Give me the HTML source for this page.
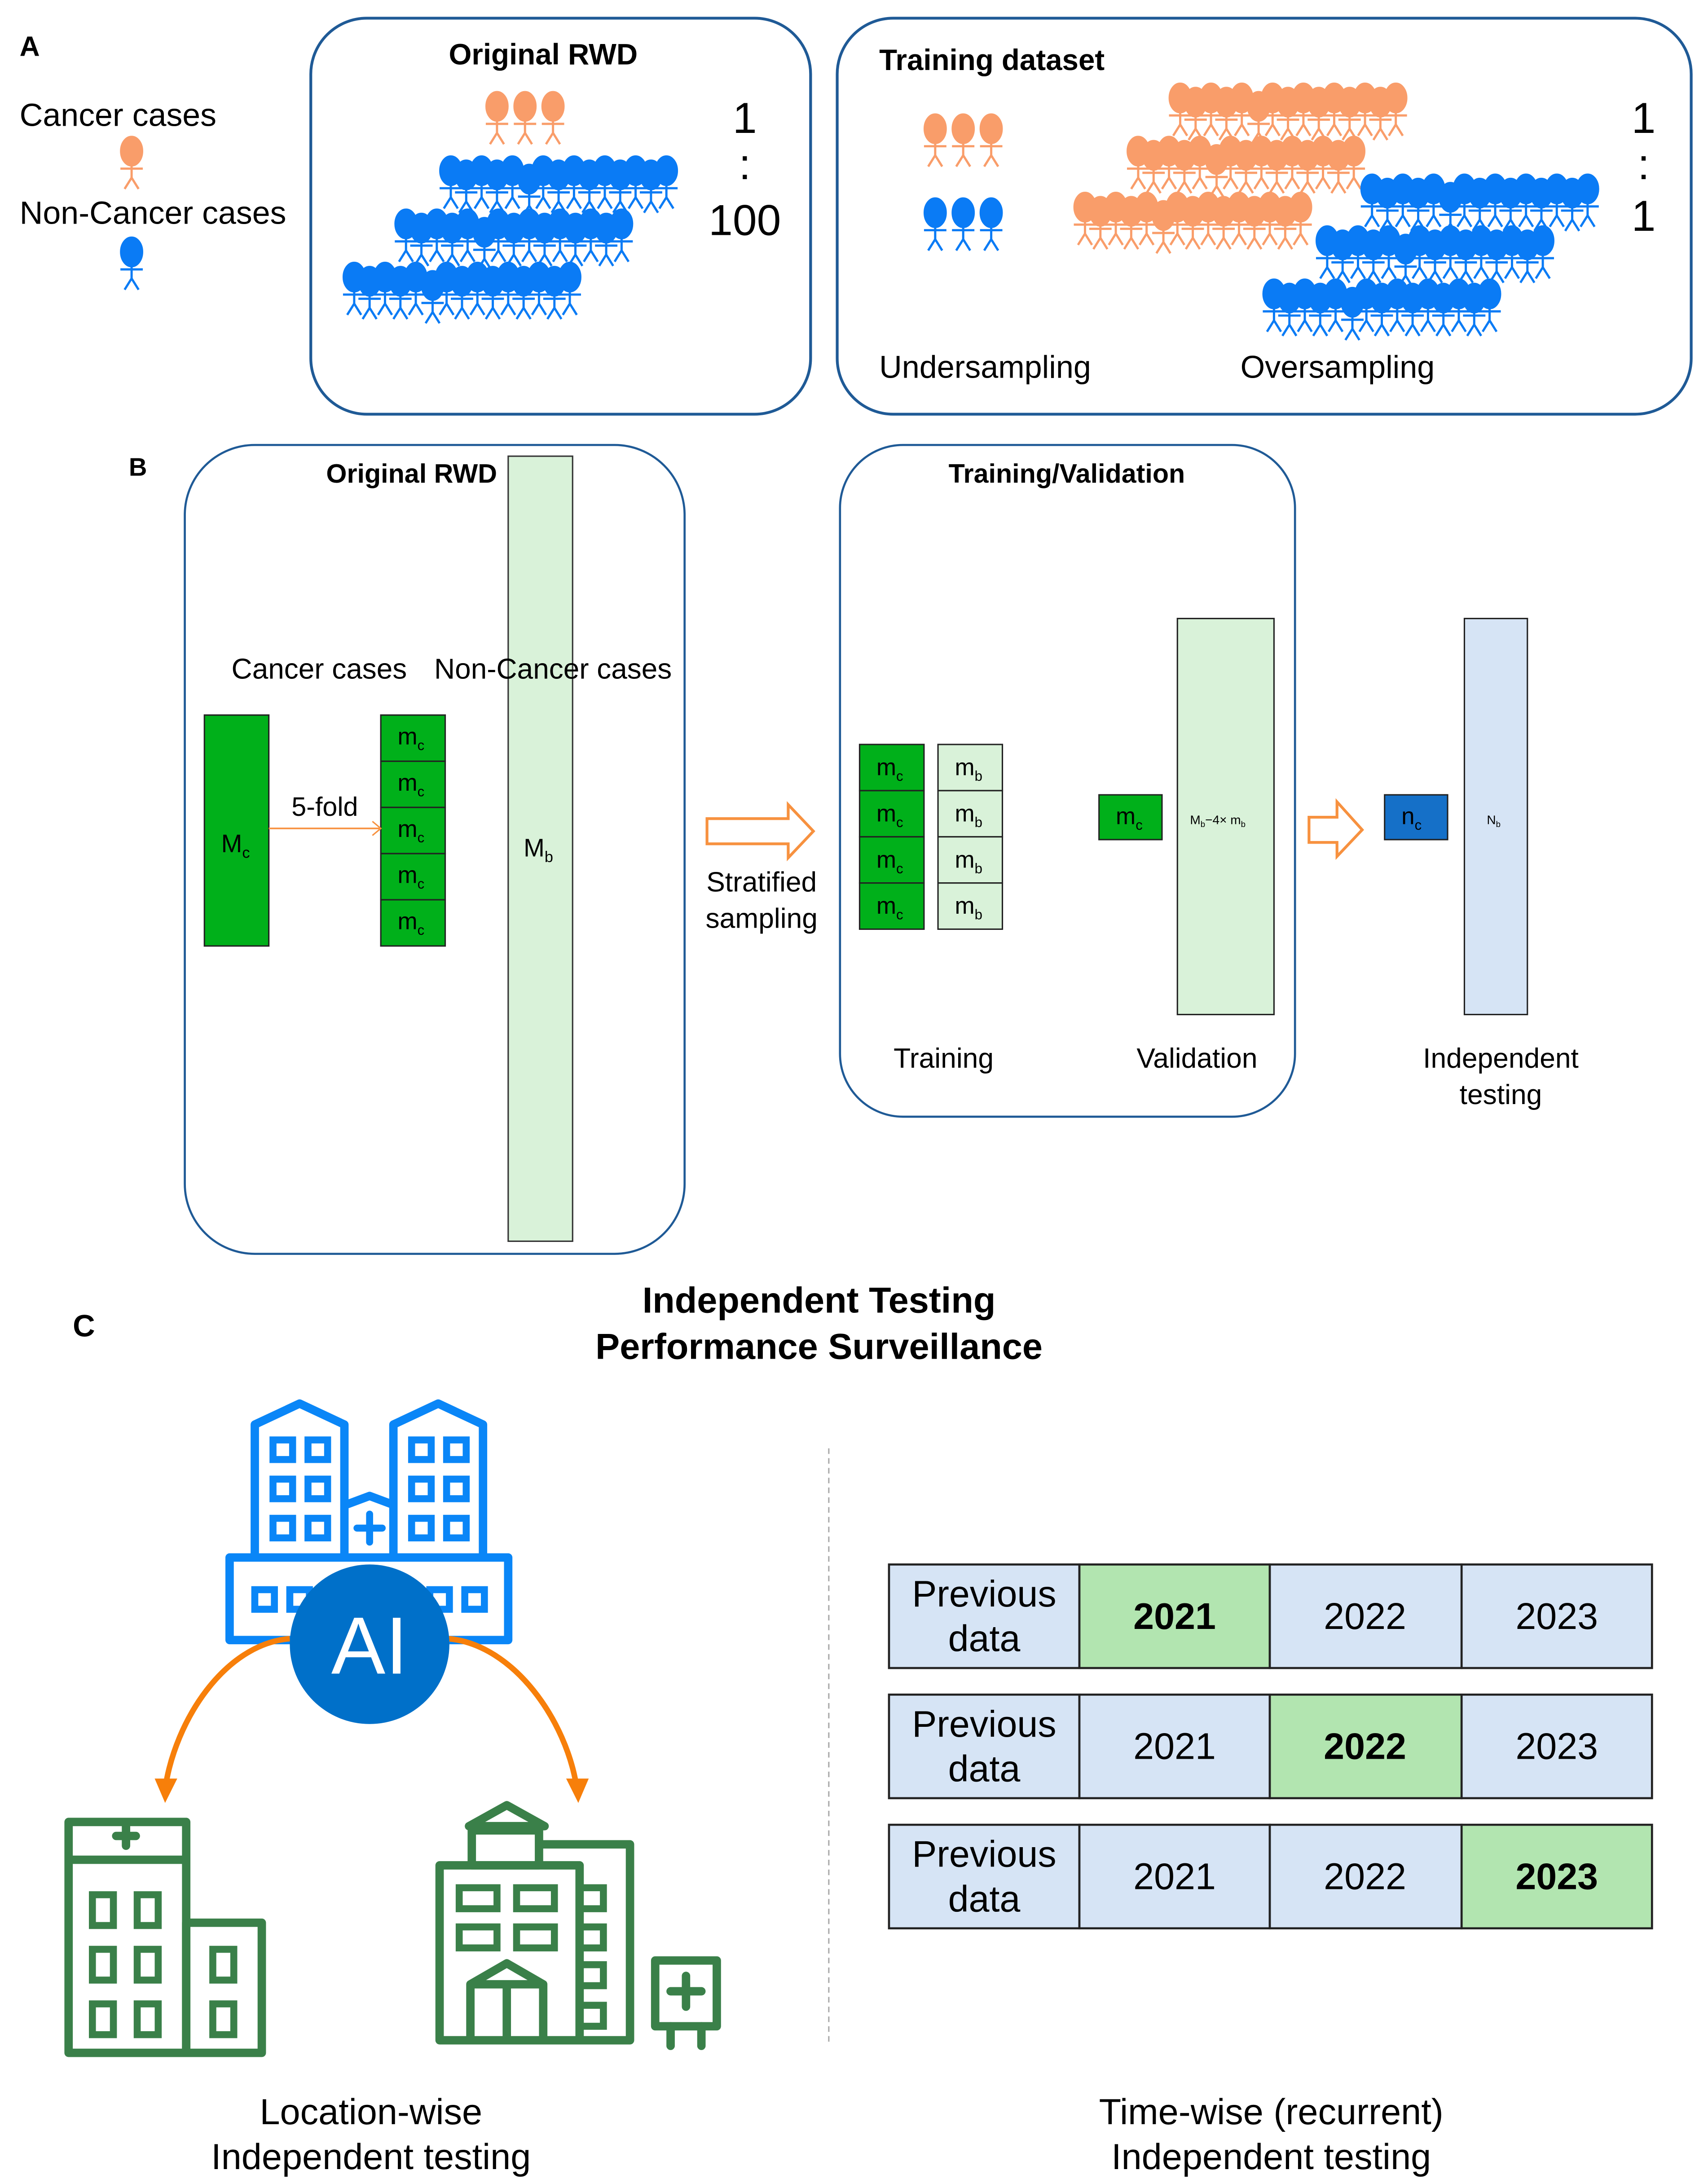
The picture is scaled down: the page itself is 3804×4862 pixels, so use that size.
<!DOCTYPE html>
<html><head><meta charset="utf-8"><style>html,body{margin:0;padding:0;background:#fff}svg{display:block}</style></head>
<body>
<svg xmlns="http://www.w3.org/2000/svg" xmlns:xlink="http://www.w3.org/1999/xlink" width="3804" height="4862" viewBox="0 0 1220 1560" preserveAspectRatio="none" font-family="Liberation Sans, Arial, sans-serif">
<defs>
<g id="p"><ellipse cx="0" cy="0" rx="7.8" ry="10.5"/><path d="M0 8V19M-8 12.5H8M0 19L-5 27M0 19L5 27" stroke-width="1.6" fill="none"/></g>
<g id="row">
<use href="#p" x="0" y="0"/><use href="#p" x="22" y="0"/><use href="#p" x="44" y="0"/><use href="#p" x="66" y="0"/><use href="#p" x="88" y="0"/><use href="#p" x="110" y="0"/><use href="#p" x="132" y="0"/><use href="#p" x="154" y="0"/>
<use href="#p" x="11" y="3"/><use href="#p" x="33" y="3"/><use href="#p" x="56" y="6"/><use href="#p" x="77" y="3"/><use href="#p" x="99" y="3"/><use href="#p" x="121" y="3"/><use href="#p" x="143" y="3"/>
</g>
</defs>
<rect width="1220" height="1560" fill="#fff"/>

<!-- Panel A -->
<text x="14" y="40" font-size="20" font-weight="bold">A</text>
<text x="14" y="90" font-size="23">Cancer cases</text>
<use href="#p" x="94" y="108" fill="#f99d6a" stroke="#f99d6a"/>
<text x="14" y="160" font-size="23">Non-Cancer cases</text>
<use href="#p" x="94" y="180" fill="#0a7bf5" stroke="#0a7bf5"/>

<rect x="222" y="13" width="357" height="283" rx="40" fill="none" stroke="#1f5a96" stroke-width="2"/>
<text x="388" y="46" font-size="21" font-weight="bold" text-anchor="middle">Original RWD</text>
<g fill="#f99d6a" stroke="#f99d6a"><use href="#p" x="355" y="76"/><use href="#p" x="375" y="76"/><use href="#p" x="395" y="76"/></g>
<g fill="#0a7bf5" stroke="#0a7bf5"><use href="#row" x="322" y="122"/><use href="#row" x="290" y="160"/><use href="#row" x="253" y="198"/></g>
<g font-size="31" text-anchor="middle"><text x="532" y="95">1</text><text x="532" y="128">:</text><text x="532" y="168">100</text></g>

<rect x="598" y="13" width="610" height="283" rx="40" fill="none" stroke="#1f5a96" stroke-width="2"/>
<text x="628" y="50" font-size="21" font-weight="bold">Training dataset</text>
<g fill="#f99d6a" stroke="#f99d6a"><use href="#p" x="668" y="92"/><use href="#p" x="688" y="92"/><use href="#p" x="708" y="92"/>
<use href="#row" x="843" y="70"/><use href="#row" x="813" y="108"/><use href="#row" x="775" y="148"/></g>
<g fill="#0a7bf5" stroke="#0a7bf5"><use href="#p" x="668" y="152"/><use href="#p" x="688" y="152"/><use href="#p" x="708" y="152"/>
<use href="#row" x="980" y="135"/><use href="#row" x="948" y="172"/><use href="#row" x="910" y="210"/></g>
<g font-size="31" text-anchor="middle"><text x="1174" y="95">1</text><text x="1174" y="128">:</text><text x="1174" y="165">1</text></g>
<text x="628" y="270" font-size="22.5">Undersampling</text>
<text x="886" y="270" font-size="22.5">Oversampling</text>

<!-- Panel B -->
<text x="92" y="340" font-size="18" font-weight="bold">B</text>
<rect x="132" y="318" width="357" height="578" rx="50" fill="none" stroke="#1f5a96" stroke-width="1.5"/>
<text x="294" y="345" font-size="19" font-weight="bold" text-anchor="middle">Original RWD</text>
<rect x="363" y="326" width="46" height="561" fill="#d9f2d9" stroke="#333" stroke-width="1"/>
<text x="228" y="485" font-size="20.5" text-anchor="middle">Cancer cases</text>
<text x="395" y="485" font-size="20.5" text-anchor="middle">Non-Cancer cases</text>
<rect x="146" y="511" width="46" height="165" fill="#00b01a" stroke="#222" stroke-width="1"/>
<text x="158" y="609" font-size="18">M<tspan font-size="11" dy="4">c</tspan></text>
<g fill="#00b01a" stroke="#222" stroke-width="1">
<rect x="272" y="511" width="46" height="33"/><rect x="272" y="544" width="46" height="33"/><rect x="272" y="577" width="46" height="33"/><rect x="272" y="610" width="46" height="33"/><rect x="272" y="643" width="46" height="33"/></g>
<g font-size="17"><text x="284" y="532">m<tspan font-size="10" dy="4">c</tspan></text><text x="284" y="565">m<tspan font-size="10" dy="4">c</tspan></text><text x="284" y="598">m<tspan font-size="10" dy="4">c</tspan></text><text x="284" y="631">m<tspan font-size="10" dy="4">c</tspan></text><text x="284" y="664">m<tspan font-size="10" dy="4">c</tspan></text></g>
<line x1="192" y1="592" x2="271" y2="592" stroke="#f7913f" stroke-width="1.2"/>
<path d="M266 587L272 592L266 597" fill="none" stroke="#f7913f" stroke-width="1"/>
<text x="232" y="583" font-size="19" text-anchor="middle">5-fold</text>
<text x="374" y="612" font-size="18">M<tspan font-size="11" dy="4">b</tspan></text>
<path d="M505 585H563V575L581 594L563 613V603H505Z" fill="#fff" stroke="#f7913f" stroke-width="2"/>
<text x="544" y="637" font-size="20" text-anchor="middle">Stratified</text>
<text x="544" y="663" font-size="20" text-anchor="middle">sampling</text>

<rect x="600" y="318" width="325" height="480" rx="45" fill="none" stroke="#1f5a96" stroke-width="1.5"/>
<text x="762" y="345" font-size="19" font-weight="bold" text-anchor="middle">Training/Validation</text>
<g stroke="#222" stroke-width="1">
<rect x="614" y="532" width="46" height="33" fill="#00b01a"/><rect x="614" y="565" width="46" height="33" fill="#00b01a"/><rect x="614" y="598" width="46" height="33" fill="#00b01a"/><rect x="614" y="631" width="46" height="33" fill="#00b01a"/>
<rect x="670" y="532" width="46" height="33" fill="#d9f2d9"/><rect x="670" y="565" width="46" height="33" fill="#d9f2d9"/><rect x="670" y="598" width="46" height="33" fill="#d9f2d9"/><rect x="670" y="631" width="46" height="33" fill="#d9f2d9"/>
<rect x="785" y="568" width="45" height="32" fill="#00b01a"/>
<rect x="841" y="442" width="69" height="283" fill="#d9f2d9"/>
<rect x="989" y="568" width="45" height="32" fill="#1570c8"/>
<rect x="1046" y="442" width="45" height="283" fill="#d6e4f5"/>
</g>
<g font-size="17"><text x="626" y="554">m<tspan font-size="10" dy="4">c</tspan></text><text x="626" y="587">m<tspan font-size="10" dy="4">c</tspan></text><text x="626" y="620">m<tspan font-size="10" dy="4">c</tspan></text><text x="626" y="653">m<tspan font-size="10" dy="4">c</tspan></text>
<text x="682" y="554">m<tspan font-size="10" dy="4">b</tspan></text><text x="682" y="587">m<tspan font-size="10" dy="4">b</tspan></text><text x="682" y="620">m<tspan font-size="10" dy="4">b</tspan></text><text x="682" y="653">m<tspan font-size="10" dy="4">b</tspan></text>
<text x="797" y="589">m<tspan font-size="10" dy="4">c</tspan></text>
<text x="1001" y="589">n<tspan font-size="10" dy="4">c</tspan></text></g>
<text x="850" y="589" font-size="9">M<tspan font-size="6" dy="2">b</tspan><tspan dy="-2">−4× m</tspan><tspan font-size="6" dy="2">b</tspan></text>
<text x="1062" y="589" font-size="9">N<tspan font-size="6" dy="2">b</tspan></text>
<path d="M935 584H955V573L973 593L955 612V602H935Z" fill="#fff" stroke="#f7913f" stroke-width="2"/>
<text x="674" y="763" font-size="20" text-anchor="middle">Training</text>
<text x="855" y="763" font-size="20" text-anchor="middle">Validation</text>
<text x="1072" y="763" font-size="20" text-anchor="middle">Independent</text>
<text x="1072" y="789" font-size="20" text-anchor="middle">testing</text>

<!-- Panel C -->
<text x="52" y="955" font-size="22" font-weight="bold">C</text>
<text x="585" y="938" font-size="26" font-weight="bold" text-anchor="middle">Independent Testing</text>
<text x="585" y="971" font-size="26" font-weight="bold" text-anchor="middle">Performance Surveillance</text>
<line x1="592" y1="1035" x2="592" y2="1460" stroke="#aaa" stroke-width="1" stroke-dasharray="4,3"/>

<!-- blue hospital -->
<g fill="none" stroke="#0a86f7" stroke-width="6" stroke-linejoin="round">
<path d="M182 1113V1018L214 1003L246 1018V1113"/>
<path d="M281 1113V1018L313 1003L345 1018V1113"/>
<path d="M248 1075L264 1069L280 1075"/>
<rect x="164" y="1113" width="199" height="59"/>
<path d="M264 1082V1102M255 1092H273" stroke-width="5" stroke-linecap="round"/>
</g>
<g fill="none" stroke="#0a86f7" stroke-width="5">
<rect x="195" y="1029" width="14" height="14"/><rect x="220" y="1029" width="14" height="14"/>
<rect x="195" y="1057" width="14" height="14"/><rect x="220" y="1057" width="14" height="14"/>
<rect x="195" y="1085" width="14" height="14"/><rect x="220" y="1085" width="14" height="14"/>
<rect x="294" y="1029" width="14" height="14"/><rect x="319" y="1029" width="14" height="14"/>
<rect x="294" y="1057" width="14" height="14"/><rect x="319" y="1057" width="14" height="14"/>
<rect x="294" y="1085" width="14" height="14"/><rect x="319" y="1085" width="14" height="14"/>
<rect x="182" y="1136" width="14" height="14"/><rect x="207" y="1136" width="14" height="14"/>
<rect x="307" y="1136" width="14" height="14"/><rect x="332" y="1136" width="14" height="14"/>
</g>
<path d="M207 1171C160 1175 125 1230 118 1278" fill="none" stroke="#f77f0a" stroke-width="4"/>
<path d="M112 1272L118 1286L125 1272Z" fill="#f77f0a" stroke="#f77f0a" stroke-width="2"/>
<path d="M320 1171C367 1175 405 1230 412 1278" fill="none" stroke="#f77f0a" stroke-width="4"/>
<path d="M406 1272L413 1286L419 1272Z" fill="#f77f0a" stroke="#f77f0a" stroke-width="2"/>
<circle cx="264" cy="1175" r="57" fill="#0070c9"/>
<text x="264" y="1196" font-size="58" fill="#fff" text-anchor="middle">AI</text>

<!-- green buildings -->
<g fill="none" stroke="#3a8049" stroke-width="6" stroke-linejoin="round">
<rect x="49" y="1302" width="84" height="165"/>
<line x1="49" y1="1329" x2="133" y2="1329"/>
<rect x="133" y="1374" width="54" height="93"/>
<path d="M90 1305V1319M83 1312H97" stroke-linecap="round"/>
</g>
<g fill="none" stroke="#3a8049" stroke-width="5">
<rect x="66" y="1354" width="15" height="22"/><rect x="98" y="1354" width="15" height="22"/>
<rect x="66" y="1393" width="15" height="22"/><rect x="98" y="1393" width="15" height="22"/>
<rect x="66" y="1432" width="15" height="22"/><rect x="98" y="1432" width="15" height="22"/>
<rect x="152" y="1393" width="15" height="22"/><rect x="152" y="1432" width="15" height="22"/>
</g>
<g fill="none" stroke="#3a8049" stroke-width="6" stroke-linejoin="round">
<rect x="314" y="1333" width="100" height="125"/>
<rect x="337" y="1308" width="48" height="25"/>
<path d="M335 1305L362 1290L389 1305Z"/>
<path d="M385 1318H450V1458H414"/>
<path d="M336 1458V1418L362 1403L388 1418V1458M362 1418V1458M336 1418H388"/>
<rect x="468" y="1401" width="44" height="47"/>
<path d="M479 1448V1462M501 1448V1462M490 1412V1434M479 1423H501" stroke-linecap="round"/>
</g>
<g fill="none" stroke="#3a8049" stroke-width="5">
<rect x="328" y="1349" width="27" height="15"/><rect x="369" y="1349" width="27" height="15"/>
<rect x="328" y="1377" width="27" height="15"/><rect x="369" y="1377" width="27" height="15"/>
<path d="M414 1349H431V1364H414M414 1377H431V1392H414M414 1404H431V1419H414M414 1433H431V1448H414"/>
</g>
<text x="265" y="1518" font-size="26" text-anchor="middle">Location-wise</text>
<text x="265" y="1550" font-size="26" text-anchor="middle">Independent testing</text>
<text x="908" y="1518" font-size="26" text-anchor="middle">Time-wise (recurrent)</text>
<text x="908" y="1550" font-size="26" text-anchor="middle">Independent testing</text>

<!-- tables -->
<g stroke="#222" stroke-width="1.5">
<rect x="635" y="1118" width="136" height="74" fill="#d6e4f5"/><rect x="771" y="1118" width="136" height="74" fill="#b2e5b0"/><rect x="907" y="1118" width="137" height="74" fill="#d6e4f5"/><rect x="1044" y="1118" width="136" height="74" fill="#d6e4f5"/>
<rect x="635" y="1211" width="136" height="74" fill="#d6e4f5"/><rect x="771" y="1211" width="136" height="74" fill="#d6e4f5"/><rect x="907" y="1211" width="137" height="74" fill="#b2e5b0"/><rect x="1044" y="1211" width="136" height="74" fill="#d6e4f5"/>
<rect x="635" y="1304" width="136" height="74" fill="#d6e4f5"/><rect x="771" y="1304" width="136" height="74" fill="#d6e4f5"/><rect x="907" y="1304" width="137" height="74" fill="#d6e4f5"/><rect x="1044" y="1304" width="136" height="74" fill="#b2e5b0"/>
</g>
<g font-size="26.5" text-anchor="middle">
<text x="703" y="1148">Previous</text><text x="703" y="1180">data</text>
<text x="839" y="1164" font-weight="bold">2021</text><text x="975" y="1164">2022</text><text x="1112" y="1164">2023</text>
<text x="703" y="1241">Previous</text><text x="703" y="1273">data</text>
<text x="839" y="1257">2021</text><text x="975" y="1257" font-weight="bold">2022</text><text x="1112" y="1257">2023</text>
<text x="703" y="1334">Previous</text><text x="703" y="1366">data</text>
<text x="839" y="1350">2021</text><text x="975" y="1350">2022</text><text x="1112" y="1350" font-weight="bold">2023</text>
</g>
</svg>
</body></html>
